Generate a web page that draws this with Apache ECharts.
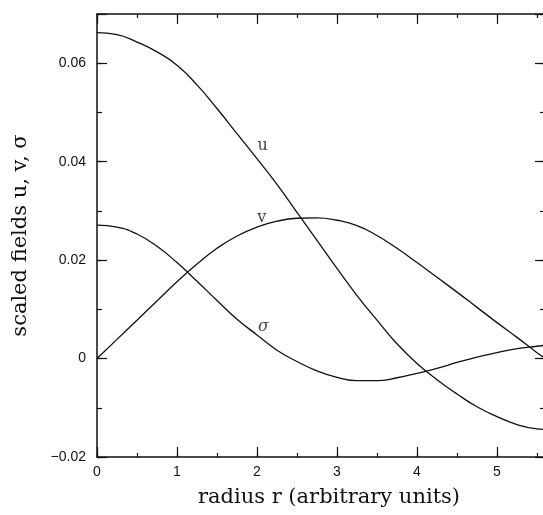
<!DOCTYPE html>
<html>
<head>
<meta charset="utf-8">
<script src="https://cdn.jsdelivr.net/npm/echarts@6/dist/echarts.min.js"></script>
<style>
  html, body { margin: 0; padding: 0; background: #fff; }
  #chart { width: 543px; height: 515px; }
</style>
</head>
<body>
<div id="chart"></div>
<script>
// ---- data ----
const radius = [0, 0.25, 0.5, 0.75, 1.0, 1.25, 1.5, 1.75, 2.0, 2.25, 2.5, 2.75, 3.0, 3.25, 3.5, 3.75, 4.0, 4.25, 4.5, 4.75, 5.0, 5.25, 5.5, 5.6];
const uVals = [0.0662, 0.0658, 0.0643, 0.0623, 0.0596, 0.0556, 0.0508, 0.0457, 0.0406, 0.0354, 0.0297, 0.0240, 0.0183, 0.0128, 0.0078, 0.0030, -0.0010, -0.0043, -0.0072, -0.0098, -0.0118, -0.0134, -0.0143, -0.0144];
const vVals = [0, 0.0039, 0.0078, 0.0117, 0.0156, 0.0192, 0.0224, 0.0249, 0.0267, 0.0279, 0.0285, 0.0286, 0.0281, 0.0270, 0.0250, 0.0224, 0.0195, 0.0165, 0.0135, 0.0104, 0.0073, 0.0043, 0.0012, 0.0001];
const sVals = [0.0271, 0.0267, 0.0253, 0.0228, 0.0195, 0.0157, 0.0118, 0.0080, 0.0048, 0.0017, -0.0006, -0.0025, -0.0038, -0.0045, -0.0045, -0.0039, -0.0030, -0.0020, -0.0008, 0.0003, 0.0012, 0.0020, 0.0025, 0.0027];

const curveNames = ['u', 'v', 'σ'];
const labelR = [2.07, 2.06, 2.08];
const labelVal = [0.0433, 0.0285, 0.0064];

const xTickValues = [0, 1, 2, 3, 4, 5];
const xTickLabels = ['0', '1', '2', '3', '4', '5'];
const yTickValues = [-0.02, 0, 0.02, 0.04, 0.06];
const yTickLabels = ['−0.02', '0', '0.02', '0.04', '0.06'];

const xTitle = 'radius r (arbitrary units)';
const yTitle = 'scaled fields u, v, σ';

// ---- build ----
const pairs = vs => radius.map((r, i) => [r, vs[i]]);
const lookup = (vals, labs) => v => {
  for (let i = 0; i < vals.length; i++) if (Math.abs(v - vals[i]) < 1e-9) return labs[i];
  return '';
};

const X_MIN = 0, X_MAX = 5.6, Y_MIN = -0.02, Y_MAX = 0.07;
const ink = '#111';
const sansFont = 'Liberation Sans';
const serifFont = 'DejaVu Serif';

function xAx(pos, interval, tickLen, showLine, showLabel, extra) {
  return Object.assign({
    type: 'value', position: pos, min: X_MIN, max: X_MAX, interval: interval,
    axisLine: { show: showLine, onZero: false, lineStyle: { color: ink, width: 1.5 } },
    axisTick: { show: true, inside: true, length: tickLen, lineStyle: { color: ink, width: 1.2 } },
    axisLabel: { show: showLabel, margin: 8, color: ink, fontFamily: sansFont, fontSize: 14,
      formatter: lookup(xTickValues, xTickLabels), showMaxLabel: false },
    splitLine: { show: false }
  }, extra || {});
}
function yAx(pos, interval, tickLen, showLine, showLabel, extra) {
  return Object.assign({
    type: 'value', position: pos, min: Y_MIN, max: Y_MAX, interval: interval,
    axisLine: { show: showLine, onZero: false, lineStyle: { color: ink, width: 1.5 } },
    axisTick: { show: true, inside: true, length: tickLen, lineStyle: { color: ink, width: 1.2 } },
    axisLabel: { show: showLabel, margin: 11, color: ink, fontFamily: sansFont, fontSize: 14,
      formatter: lookup(yTickValues, yTickLabels), showMaxLabel: false },
    splitLine: { show: false }
  }, extra || {});
}

const chart = echarts.init(document.getElementById('chart'), null, { renderer: 'canvas' });

const lineSeries = [uVals, vVals, sVals].map((vals, i) => ({
  name: curveNames[i], type: 'line', xAxisIndex: 0, yAxisIndex: 0,
  data: pairs(vals), smooth: 0.5, showSymbol: false, symbol: 'none',
  lineStyle: { color: ink, width: 1.3 }, silent: true, animation: false
}));

const labelSeries = {
  type: 'scatter', xAxisIndex: 0, yAxisIndex: 0, symbolSize: 0, animation: false, silent: true,
  data: curveNames.map((n, i) => ({
    name: n, value: [labelR[i], labelVal[i]],
    label: { fontStyle: n === 'σ' ? 'italic' : 'normal' }
  })),
  label: { show: true, position: 'inside', formatter: p => p.name, color: ink,
    fontFamily: serifFont, fontSize: 16 }
};

chart.setOption({
  backgroundColor: '#fff',
  animation: false,
  grid: { left: 97, top: 14, width: 448, height: 443, containLabel: false, outerBoundsMode: 'none' },
  xAxis: [
    xAx('bottom', 0.5, 4, true, true, {
      name: xTitle, nameLocation: 'middle', nameGap: 30,
      nameTextStyle: { color: ink, fontFamily: serifFont, fontSize: 21, padding: [0, 0, 0, 16] }
    }),
    xAx('bottom', 1, 10, false, false),
    xAx('top', 0.5, 4, true, false),
    xAx('top', 1, 10, false, false)
  ],
  yAxis: [
    yAx('left', 0.01, 5, true, true, {
      name: yTitle, nameLocation: 'middle', nameGap: 66, nameRotate: 90,
      nameTextStyle: { color: ink, fontFamily: serifFont, fontSize: 21 }
    }),
    yAx('left', 0.02, 10, false, false),
    yAx('right', 0.01, 5, true, false),
    yAx('right', 0.02, 10, false, false)
  ],
  series: lineSeries.concat([labelSeries])
});
</script>
</body>
</html>
